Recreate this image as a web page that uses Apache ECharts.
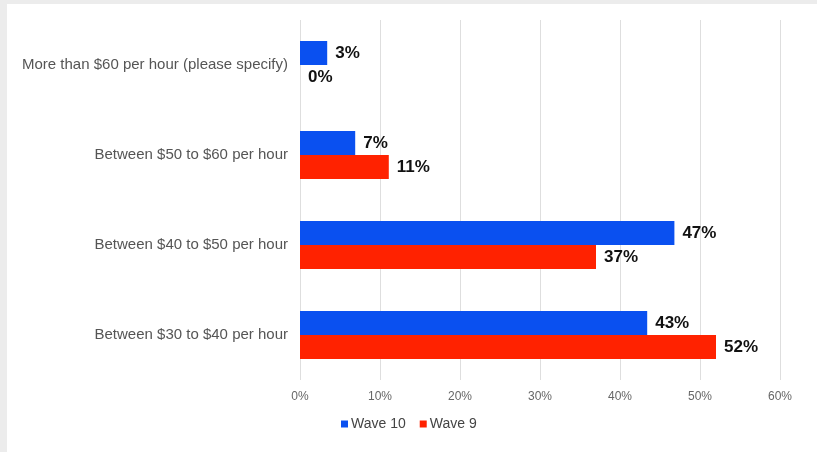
<!DOCTYPE html>
<html><head><meta charset="utf-8">
<script src="https://cdn.jsdelivr.net/npm/echarts@6/dist/echarts.min.js"></script>
<style>
html,body{margin:0;padding:0;background:#ececec;width:817px;height:452px;overflow:hidden}
#wrap{position:absolute;left:7px;top:4px;width:810px;height:448px;background:#fff}
#c{position:absolute;left:0;top:0;width:817px;height:452px}
</style></head>
<body><div id="wrap"></div><div id="c"></div>
<script>
const categories = ["More than $60 per hour (please specify)", "Between $50 to $60 per hour", "Between $40 to $50 per hour", "Between $30 to $40 per hour"];
const wave10 = [3.4, 6.9, 46.8, 43.4];
const wave9 = [0, 11.1, 37, 52];
const xTicks = [0, 10, 20, 30, 40, 50, 60];

const chart = echarts.init(document.getElementById('c'), null, {renderer:'canvas'});
const lbl = {show:true, position:'right', distance:8, color:'#111', fontWeight:'bold', fontSize:17, fontFamily:'Liberation Sans, Arial, sans-serif', formatter: p => Math.round(p.value) + '%'};
chart.setOption({
  backgroundColor:'transparent',
  animation:false,
  textStyle:{fontFamily:'Liberation Sans, Arial, sans-serif'},
  grid:{left:300, right:37, top:20, bottom:72, containLabel:false},
  legend:{left:336, top:412, itemWidth:7, itemHeight:7, itemGap:14, icon:'rect',
    textStyle:{fontSize:14, color:'#444', padding:[0,0,0,-2]},
    data:['Wave 10','Wave 9']},
  xAxis:{type:'value', min:xTicks[0], max:xTicks[xTicks.length-1], interval:10,
    axisLabel:{formatter:'{value}%', color:'#666', fontSize:12, margin:11},
    axisLine:{show:false}, axisTick:{show:false},
    splitLine:{lineStyle:{color:'#dedede', width:1}}},
  yAxis:{type:'category', data:categories, inverse:true,
    axisLine:{show:false}, axisTick:{show:false},
    axisLabel:{color:'#555', fontSize:15, margin:12}},
  series:[
    {name:'Wave 10', type:'bar', data:wave10, itemStyle:{color:'#0a50f0'}, barWidth:24, barGap:'0%', label:lbl},
    {name:'Wave 9', type:'bar', data:wave9, itemStyle:{color:'#ff2200'}, barWidth:24, barGap:'0%', label:lbl}
  ]
});
</script></body></html>
